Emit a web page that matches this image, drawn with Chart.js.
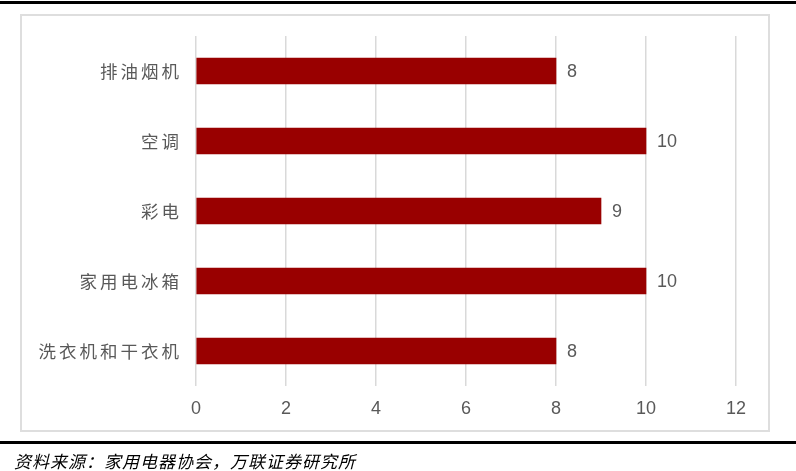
<!DOCTYPE html>
<html>
<head>
<meta charset="utf-8">
<script src="https://cdn.jsdelivr.net/npm/chart.js@4"></script>
<style>
  html, body { margin: 0; padding: 0; background: #fff; }
  #pagina { position: relative; width: 796px; height: 471px; overflow: hidden; }
  .linha { position: absolute; left: 0; width: 796px; height: 3px; background: #000; }
  #caixa { position: absolute; left: 20px; top: 14px; width: 746px; height: 414px; border: 2px solid #dedede; }
  #fonte { position: absolute; left: 14px; top: 448px; font: italic 17px "Noto Sans CJK SC", sans-serif; letter-spacing: 1px; color: #000; }
  #grafico-box { position: absolute; left: 0; top: 0; width: 796px; height: 471px; }
</style>
</head>
<body>
<div id="pagina">
  <div class="linha" style="top:1px"></div>
  <div id="caixa"></div>
  <div id="grafico-box"><canvas id="grafico"></canvas></div>
  <div class="linha" style="top:441px"></div>
  <div id="fonte">资料来源：家用电器协会，万联证券研究所</div>
</div>
<script>
// dados do gráfico
const categorias = ['排油烟机', '空调', '彩电', '家用电冰箱', '洗衣机和干衣机'];
const valores = [8, 10, 9, 10, 8];
const eixoMin = 0;
const eixoMax = 12;
const eixoPasso = 2;

// espaçamento só nos nomes chineses; rótulos de valor no fim de cada barra
const rotulosPlugin = {
    id: 'rotulos',
    beforeDraw(chart) {
        chart.ctx.letterSpacing = '3px';
    },
    beforeDatasetsDraw(chart) {
        chart.ctx.letterSpacing = '0px';
    },
    afterDatasetsDraw(chart) {
        const ctx = chart.ctx;
        const meta = chart.getDatasetMeta(0);
        ctx.save();
        ctx.font = '18px "Liberation Sans", Arial, sans-serif';
        ctx.fillStyle = '#595959';
        ctx.textAlign = 'left';
        ctx.textBaseline = 'middle';
        meta.data.forEach((barra, i) => {
            ctx.fillText(valores[i], barra.x + 11, barra.y + 1);
        });
        ctx.restore();
    }
};

const ctx = document.getElementById('grafico').getContext('2d');
new Chart(ctx, {
    type: 'bar',
    data: {
        labels: categorias,
        datasets: [{
            data: valores,
            backgroundColor: '#990000',
            barThickness: 26
        }]
    },
    options: {
        indexAxis: 'y',
        responsive: true,
        maintainAspectRatio: false,
        animation: false,
        layout: { padding: { top: 36, right: 60, bottom: 45, left: 0 } },
        plugins: {
            legend: { display: false },
            tooltip: { enabled: false }
        },
        scales: {
            x: {
                min: eixoMin,
                max: eixoMax,
                ticks: {
                    stepSize: eixoPasso,
                    color: '#595959',
                    padding: 12,
                    z: 1,
                    font: { family: '"Liberation Sans", Arial, sans-serif', size: 18 }
                },
                grid: { color: '#d9d9d9', lineWidth: 1.5, drawTicks: false },
                border: { display: false },
                afterFit(scale) { scale.height = 40; }
            },
            y: {
                ticks: {
                    color: '#595959',
                    padding: 14,
                    font: { family: '"Noto Sans CJK SC", sans-serif', size: 17.5 }
                },
                grid: { display: false, drawTicks: false },
                border: { display: false },
                afterFit(scale) { scale.width = 196; }
            }
        }
    },
    plugins: [rotulosPlugin]
});
</script>
</body>
</html>
